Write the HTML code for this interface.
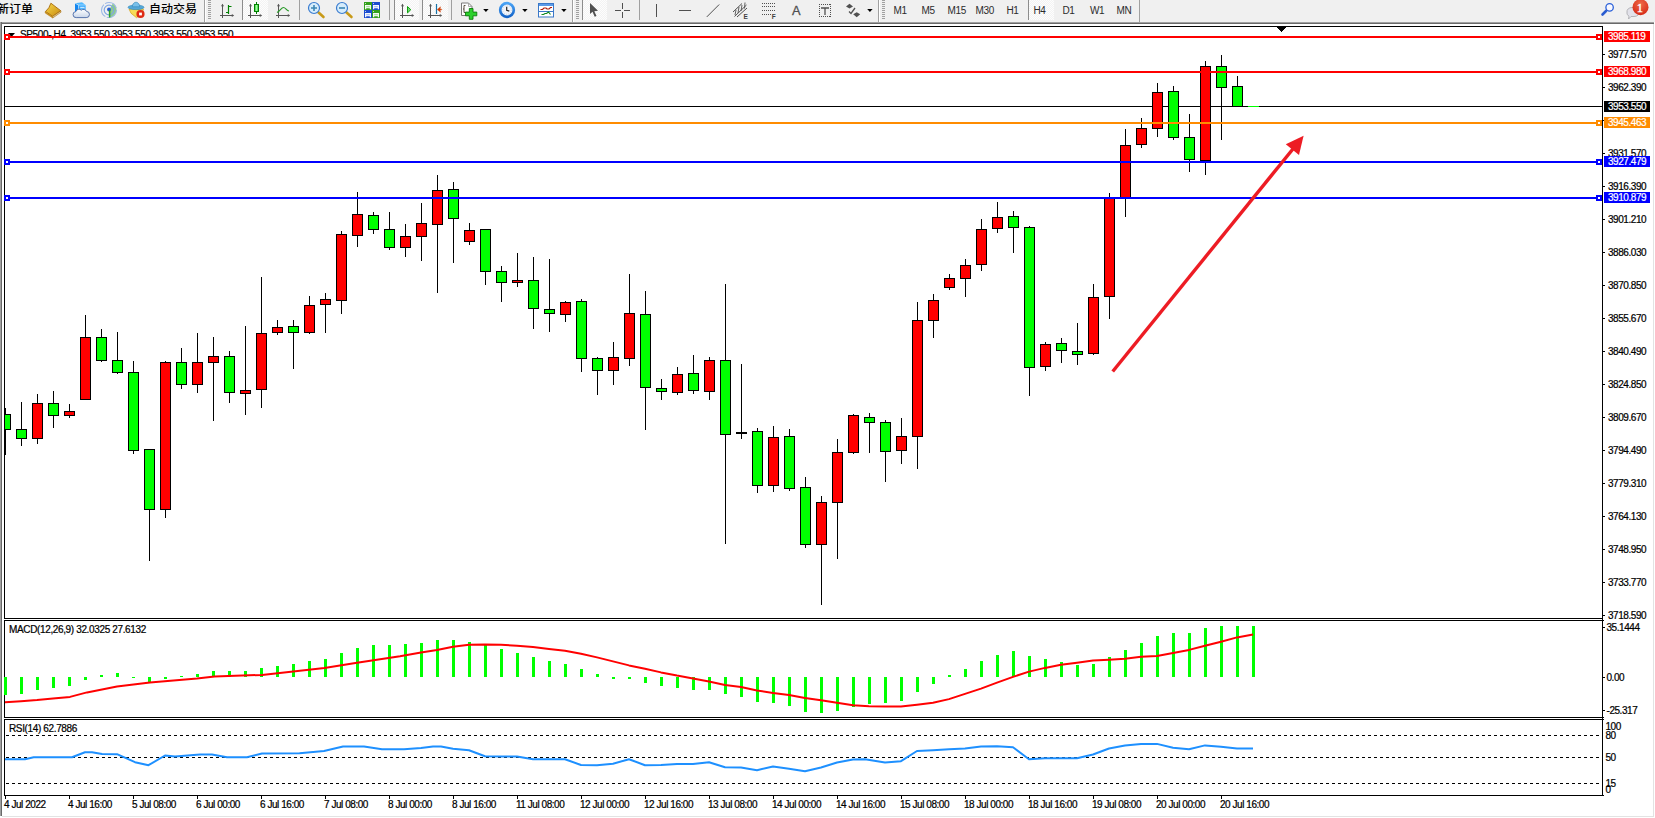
<!DOCTYPE html>
<html><head><meta charset="utf-8"><title>SP500-,H4</title>
<style>
html,body{margin:0;padding:0}
body{width:1655px;height:818px;overflow:hidden;position:relative;background:#fff;font-family:"Liberation Sans","Noto Sans CJK SC",sans-serif}
#tb{position:absolute;left:0;top:0;width:1655px;height:22px;background:#f0f0f0}
#edge-t{position:absolute;left:0;top:22px;width:1654px;height:2px;background:linear-gradient(#a0a0a0 50%,#696969 50%)}
#edge-l{position:absolute;left:0;top:22px;width:2px;height:794px;background:linear-gradient(90deg,#a0a0a0 50%,#696969 50%)}
#edge-r{position:absolute;left:1653px;top:24px;width:1px;height:793px;background:#e3e3e3}
#edge-b{position:absolute;left:2px;top:816px;width:1652px;height:1px;background:#e3e3e3}
.cjk{position:absolute;top:1px;transform:scaleY(.92);transform-origin:0 13.5px;font-weight:500;font-size:12px;line-height:16px;color:#000;white-space:nowrap}
.sep{position:absolute;top:0;width:1px;height:20px;background:#a0a0a0}
.sep.f{height:22px;box-shadow:1px 0 0 #fff}
.grip{position:absolute;top:0;width:3px;height:20px;background:repeating-linear-gradient(#a0a0a0 0,#a0a0a0 1px,transparent 1px,transparent 2px)}
.pr{position:absolute;top:0;height:20px;background:repeating-conic-gradient(#fdfdfd 0 25%,#f3f3f3 0 50%) 0 0/2px 2px;border-left:1px solid #8c8c8c;box-sizing:border-box}
.tf{position:absolute;top:4px;font-size:10px;line-height:13px;color:#2c2c2c;letter-spacing:-0.35px;white-space:nowrap}
.ic{position:absolute;top:0;left:0}
</style></head><body>
<div id="tb">
<span class="cjk" style="left:-3px">新订单</span>
<span class="cjk" style="left:149px">自动交易</span>
<div class="sep f" style="left:204px"></div><div class="grip" style="left:208px"></div>
<div class="pr" style="left:242px;width:26px"></div>
<div class="sep" style="left:299px"></div>
<div class="sep" style="left:389px"></div>
<div class="pr" style="left:394px;width:25px"></div>
<div class="pr" style="left:422px;width:26px"></div>
<div class="sep" style="left:451px"></div>
<div class="sep f" style="left:572px"></div><div class="grip" style="left:576px"></div>
<div class="pr" style="left:582px;width:25px"></div>
<div class="sep" style="left:639px"></div>
<div class="sep f" style="left:878px"></div><div class="grip" style="left:882px"></div>
<div class="pr" style="left:1028px;width:26px"></div>
<div class="sep" style="left:1139px;height:22px"></div>
<span class="tf" style="left:893.5px">M1</span><span class="tf" style="left:921.5px">M5</span><span class="tf" style="left:947.5px">M15</span><span class="tf" style="left:975.5px">M30</span><span class="tf" style="left:1006.5px">H1</span><span class="tf" style="left:1033.5px">H4</span><span class="tf" style="left:1062.5px">D1</span><span class="tf" style="left:1090px">W1</span><span class="tf" style="left:1116.5px">MN</span>
<svg class="ic" width="1655" height="22" viewBox="0 0 1655 22">
<defs>
<linearGradient id="gold" x1="0" y1="0" x2="1" y2="1"><stop offset="0" stop-color="#f7d84a"/><stop offset="1" stop-color="#c88a10"/></linearGradient>
<linearGradient id="cl" x1="0" y1="0" x2="0" y2="1"><stop offset="0" stop-color="#fff"/><stop offset="1" stop-color="#c9d6ea"/></linearGradient>
<linearGradient id="bl" x1="0" y1="0" x2="0" y2="1"><stop offset="0" stop-color="#4aa3f5"/><stop offset="1" stop-color="#1464c8"/></linearGradient>
<linearGradient id="gr" x1="0" y1="0" x2="1" y2="0"><stop offset="0" stop-color="#20c020"/><stop offset=".5" stop-color="#a0ffa0"/><stop offset="1" stop-color="#20c020"/></linearGradient>
<radialGradient id="rd" cx=".5" cy=".3" r=".7"><stop offset="0" stop-color="#ee6a48"/><stop offset="1" stop-color="#d62a16"/></radialGradient>
<g id="axes" fill="none" stroke="#555" stroke-width="1"><path d="M2.5 4.500v13.500M0 15.500h13"/><path d="M1 6.200L2.500 3.800L4 6.200zM11.800 14L14.200 15.500L11.800 17z" fill="#555" stroke="none"/></g>
<path id="dd" d="M0.200 9h5.400l-2.700 3z" fill="#000"/>
</defs>
<!-- book -->
<path d="M50.900 3.200L60.700 10.700L52.600 16.300L45.500 11.500Q49.500 8.200 50.900 3.200z" fill="url(#gold)" stroke="#a86a08" stroke-width=".9" stroke-linejoin="round"/>
<path d="M45.200 11.700L52.600 16.500L52.700 18L45.200 13z" fill="#cf9414" stroke="#b07810" stroke-width=".5"/>
<path d="M52.600 16.500L60.900 10.900L61 12.200L52.700 18z" fill="#e6d6a0" stroke="#a86a08" stroke-width=".6"/>
<!-- server + cloud -->
<path d="M75 3.200L78.600 5v8.500L75 12z" fill="#1486ee"/><path d="M78.600 5h7v8.500h-7z" fill="#2ea6ff"/><path d="M75 3.200L82 2.200L85.600 5h-7z" fill="#52b8ff"/>
<path d="M75.200 3.400L78.600 5.100V12M78.600 5.100H85.400" stroke="#d8f0ff" stroke-width=".6" fill="none"/>
<path d="M80.200 7.300h4.400" stroke="#fff" stroke-width=".9"/><path d="M80 8.500h5.200v2.500H80z" fill="#7cc8ff"/>
<path d="M76.200 17.600a3 3 0 0 1-.3-6a3.200 3.200 0 0 1 5.400-1.400a3.300 3.300 0 0 1 5.200 1.200a3.100 3.100 0 0 1-.3 6.200z" fill="url(#cl)" stroke="#4a68a4" stroke-width=".9"/>
<!-- signal -->
<path d="M109 10L112.800 3.600A7.500 7.500 0 0 1 109 17.500z" fill="#6fbf6f" opacity=".75"/>
<circle cx="109" cy="10" r="7.500" fill="none" stroke="#9db9e6" stroke-width="1.100" stroke-dasharray="14 1.500"/><circle cx="109" cy="10" r="4.800" fill="none" stroke="#7fa6e2" stroke-width="1.200"/><circle cx="109" cy="9.500" r="1.900" fill="#2a5fd0"/><path d="M109.600 10.200v7.300" stroke="#2aa02a" stroke-width="1.500"/>
<!-- hat / expert -->
<path d="M129 9h14.500l-1.500 4.500l-5.500 4.200l-5.500-4.500z" fill="#f6dc58" stroke="#d2a21c" stroke-width=".7"/>
<ellipse cx="136" cy="7.300" rx="8" ry="2.300" fill="#56a8d8" stroke="#2e86b8" stroke-width=".6"/><path d="M132.300 6.800a3.700 4.600 0 0 1 7.400 0z" fill="#78c0ea" stroke="#2e86b8" stroke-width=".6"/>
<circle cx="140.500" cy="14" r="4.100" fill="#de2a14"/><rect x="139.100" y="12.600" width="2.800" height="2.800" fill="#fff"/>
<!-- chart type icons -->
<use href="#axes" x="220" y="0"/><path d="M228.500 5v9M228.500 6.500h3M226 12.500h2.500" stroke="#008000" stroke-width="1.200" fill="none"/>
<use href="#axes" x="248" y="0"/><path d="M256.500 2v12" stroke="#008000" stroke-width="1"/><rect x="254.500" y="4.500" width="4" height="7" fill="url(#gr)" stroke="#008000" stroke-width="1"/>
<use href="#axes" x="276" y="0"/><path d="M277 12.500C280 11 281.500 7.500 283.500 7.500S286.500 10.500 289 11" stroke="#2a9a2a" stroke-width="1.200" fill="none"/>
<!-- zoom in/out -->
<g id="zin"><path d="M318 12l5.500 5" stroke="#c89a18" stroke-width="2.600" stroke-linecap="round"/><circle cx="314" cy="8" r="5.500" fill="#d6ecfb" stroke="#3a7cd0" stroke-width="1.200"/></g><path d="M311 8h6M314 5v6" stroke="#3c86b4" stroke-width="1.600"/>
<path d="M346 12l5.500 5" stroke="#c89a18" stroke-width="2.600" stroke-linecap="round"/><circle cx="342" cy="8" r="5.500" fill="#d6ecfb" stroke="#3a7cd0" stroke-width="1.200"/><path d="M339 8h6" stroke="#3c86b4" stroke-width="1.600"/>
<!-- tile -->
<rect x="364" y="2" width="8" height="8" fill="#34a01c"/><rect x="372" y="2" width="8" height="8" fill="#1c4cd0"/><rect x="364" y="10" width="8" height="8" fill="#1c4cd0"/><rect x="372" y="10" width="8" height="8" fill="#34a01c"/>
<path d="M365 5h6v4.300h-1.200v-1h-3.600v1H365zM373 5h6v4.300h-1.200v-1h-3.600v1H373zM365 13h6v4.300h-1.200v-1h-3.600v1H365zM373 13h6v4.300h-1.200v-1h-3.600v1H373z" fill="#fff" opacity=".95"/>
<path d="M366.200 6.700h3.600M374.200 14.700h3.600" stroke="#8fd080" stroke-width=".9"/><path d="M374.200 6.700h3.600M366.200 14.700h3.600" stroke="#8fa8f0" stroke-width=".9"/>
<path d="M365 3.500h1M373 3.500h1M365 11.500h1M373 11.500h1" stroke="#e8f4e8" stroke-width="1" opacity=".8"/>
<!-- autoscroll / shift -->
<use href="#axes" x="400" y="0"/><path d="M407.500 6.500v6.400l3.300-3.200z" fill="#70dc70" stroke="#10a010" stroke-width="1"/>
<use href="#axes" x="428" y="0"/><path d="M436.500 4v10" stroke="#1874a8" stroke-width="1.200"/><path d="M437.300 9.500l3.200-2.700l-.4 2.100l2 .6l-2 .6l.4 2.100z" fill="#d03c00" stroke="#d03c00" stroke-width=".4"/>
<!-- new chart -->
<path d="M461.500 3h7l3.500 3.500v9h-10.500z" fill="#fcfcfc" stroke="#7a7a7a" stroke-width="1"/><path d="M468.500 3v3.500h3.500" fill="none" stroke="#9a9a9a" stroke-width=".8"/><path d="M465.500 5.500h-1.500v7h1.500M463 9h1" stroke="#4a4030" stroke-width=".9" fill="none"/>
<path d="M469.300 8.500h3.700v3.600h3.800v3.700h-3.800v3.500h-3.700v-3.500h-3.800v-3.700h3.800z" fill="#2cd02c" stroke="#0a7c0a" stroke-width=".9"/>
<use href="#dd" x="483"/>
<!-- clock -->
<circle cx="507" cy="10" r="6.800" fill="#f0f4fa" stroke="url(#bl)" stroke-width="2.700"/><circle cx="507" cy="10" r="4.300" fill="none" stroke="#b8c4d4" stroke-width=".8" stroke-dasharray=".8 1.450"/><path d="M506.700 6.700v3.600l2.600 .8" stroke="#222" stroke-width="1.200" fill="none"/>
<use href="#dd" x="522"/>
<!-- template -->
<rect x="538.500" y="3.500" width="15" height="13.500" fill="#fff" stroke="#3a78c8" stroke-width="1"/><rect x="539" y="4" width="14" height="2" fill="#5a9ae8"/><path d="M539 11.500h14" stroke="#3a78c8" stroke-width="1"/>
<path d="M540.500 9.500h2l1.500-1.500h2l1 1h2l1.500-1.500h1.500" stroke="#b02010" stroke-width="1.200" fill="none"/><path d="M541.500 14.500h2l1.500-1h1.500l2-1.500l2 2.500" stroke="#108a20" stroke-width="1.200" fill="none"/>
<use href="#dd" x="561"/>
<!-- cursor -->
<path d="M590 3v11l2.500-2.200l2.200 5l1.800-.8l-2.200-4.800l3.700-.4z" fill="#505050"/>
<!-- crosshair -->
<path d="M615 10.500h6M624 10.500h6M622.500 3v6M622.500 12v6" stroke="#505050" stroke-width="1"/>
<!-- vline hline trend -->
<path d="M656.500 4v13" stroke="#505050" stroke-width="1"/><path d="M679 10.500h12" stroke="#505050" stroke-width="1"/><path d="M706.800 16.900L719.200 4.500" stroke="#505050" stroke-width="1"/>
<!-- channel -->
<path d="M733 12L742 3.500M734.500 16.500L746.500 5M737 17L747 8" stroke="#505050" stroke-width="1"/><path d="M736 10l-1 5M739 7l-1 6M742 5l-1 6M745 2.500l-.5 6" stroke="#505050" stroke-width=".9"/>
<text x="743.500" y="18.800" font-family="Liberation Sans, sans-serif" font-size="6.500" font-weight="bold" fill="#404040">E</text>
<!-- fibo -->
<path d="M762 3.500h14M762 6.500h14M762 10.500h14M762 14.500h9.500" stroke="#505050" stroke-width="1" stroke-dasharray="1 1" shape-rendering="crispEdges"/>
<text x="771.800" y="18.800" font-family="Liberation Sans, sans-serif" font-size="6.500" font-weight="bold" fill="#404040">F</text>
<!-- A -->
<text x="792" y="15.200" font-family="Liberation Sans, sans-serif" font-size="12.800" fill="#505050" stroke="#505050" stroke-width=".3">A</text>
<!-- T box -->
<path d="M819 4.500h12M819 16.500h12M819.500 4v13M830.500 4v13" fill="none" stroke="#505050" stroke-width="1" stroke-dasharray="1 1" shape-rendering="crispEdges"/><path d="M821 8h8M825 8v7" stroke="#505050" stroke-width="1.300"/>
<!-- arrows -->
<path d="M846 6.500l3.500-2.700l3.500 2.700l-3.500 2zM853.200 14.300l3.500-2l3.500 2l-3.500 2.900z" fill="#505050"/><path d="M849 11.500l2 2l4-5.500" stroke="#505050" stroke-width="1.300" fill="none"/>
<use href="#dd" x="867"/>
<!-- search -->
<path d="M1606 11l-3.500 3.500" stroke="#2a5cd0" stroke-width="2.600" stroke-linecap="round"/><circle cx="1609.600" cy="7.400" r="3.700" fill="#f8f8ff" stroke="#2a60d8" stroke-width="1.300"/>
<!-- chat -->
<path d="M1627 12a5 4 0 0 1 5-4.500h2a5 4 0 0 1 0 9h-3l-2.500 2.500l.5-2.800a5 4 0 0 1-2-4.200z" fill="#e2e2ea" stroke="#b4b4b8" stroke-width="1"/>
<circle cx="1640.500" cy="7.200" r="8" fill="url(#rd)"/>
<text x="1636.800" y="11.800" font-family="Liberation Serif, serif" font-size="12.500" fill="#fff" stroke="#fff" stroke-width=".35">1</text>
</svg>

</div>
<div id="edge-t"></div><div id="edge-l"></div><div id="edge-r"></div><div id="edge-b"></div>
<svg width="1655" height="818" viewBox="0 0 1655 818" style="position:absolute;left:0;top:0" shape-rendering="crispEdges">
<rect x="4" y="26" width="1599" height="1" fill="#000"/>
<rect x="4" y="26" width="1" height="593" fill="#000"/>
<rect x="4" y="618" width="1599" height="1" fill="#000"/>
<rect x="1602" y="26" width="1" height="770" fill="#000"/>
<rect x="4" y="620" width="1599" height="1" fill="#000"/>
<rect x="4" y="620" width="1" height="98" fill="#000"/>
<rect x="4" y="717" width="1599" height="1" fill="#000"/>
<rect x="4" y="719" width="1599" height="1" fill="#000"/>
<rect x="4" y="719" width="1" height="77" fill="#000"/>
<rect x="4" y="795" width="1599" height="1" fill="#000"/>
<rect x="1603" y="620" width="1" height="1" fill="#000"/>
<rect x="1603" y="717" width="1" height="1" fill="#000"/>
<rect x="1603" y="719" width="1" height="1" fill="#000"/>
<rect x="1603" y="795" width="1" height="1" fill="#000"/>
<text x="20" y="38" font-family="Liberation Sans, sans-serif" font-size="10" letter-spacing="-0.36" stroke-width="0.22" paint-order="stroke" fill="#000" stroke="#000" shape-rendering="auto">SP500-,H4&#160;&#160;3953.550 3953.550 3953.550 3953.550</text>
<path d="M8 33h7l-3.5 4z" fill="#000" shape-rendering="auto"/>
<rect x="1277" y="27" width="9" height="1" fill="#000"/>
<rect x="1278" y="28" width="7" height="1" fill="#000"/>
<rect x="1279" y="29" width="5" height="1" fill="#000"/>
<rect x="1280" y="30" width="3" height="1" fill="#000"/>
<rect x="1281" y="31" width="1" height="1" fill="#000"/>
<rect x="5" y="106" width="1597" height="1" fill="#000"/>
<clipPath id="cc"><rect x="5" y="27" width="1597" height="591"/></clipPath>
<g clip-path="url(#cc)">
<rect x="5" y="408" width="1" height="47" fill="#000"/>
<rect x="0" y="414" width="11" height="16" fill="#000"/>
<rect x="1" y="415" width="9" height="14" fill="#00ff00"/>
<rect x="21" y="402" width="1" height="44" fill="#000"/>
<rect x="16" y="429" width="11" height="10" fill="#000"/>
<rect x="17" y="430" width="9" height="8" fill="#00ff00"/>
<rect x="37" y="394" width="1" height="50" fill="#000"/>
<rect x="32" y="403" width="11" height="36" fill="#000"/>
<rect x="33" y="404" width="9" height="34" fill="#ff0000"/>
<rect x="53" y="391" width="1" height="37" fill="#000"/>
<rect x="48" y="403" width="11" height="13" fill="#000"/>
<rect x="49" y="404" width="9" height="11" fill="#00ff00"/>
<rect x="69" y="404" width="1" height="14" fill="#000"/>
<rect x="64" y="411" width="11" height="5" fill="#000"/>
<rect x="65" y="412" width="9" height="3" fill="#ff0000"/>
<rect x="85" y="315" width="1" height="85" fill="#000"/>
<rect x="80" y="337" width="11" height="63" fill="#000"/>
<rect x="81" y="338" width="9" height="61" fill="#ff0000"/>
<rect x="101" y="329" width="1" height="33" fill="#000"/>
<rect x="96" y="337" width="11" height="24" fill="#000"/>
<rect x="97" y="338" width="9" height="22" fill="#00ff00"/>
<rect x="117" y="332" width="1" height="42" fill="#000"/>
<rect x="112" y="360" width="11" height="13" fill="#000"/>
<rect x="113" y="361" width="9" height="11" fill="#00ff00"/>
<rect x="133" y="361" width="1" height="93" fill="#000"/>
<rect x="128" y="372" width="11" height="79" fill="#000"/>
<rect x="129" y="373" width="9" height="77" fill="#00ff00"/>
<rect x="149" y="449" width="1" height="112" fill="#000"/>
<rect x="144" y="449" width="11" height="61" fill="#000"/>
<rect x="145" y="450" width="9" height="59" fill="#00ff00"/>
<rect x="165" y="361" width="1" height="157" fill="#000"/>
<rect x="160" y="362" width="11" height="148" fill="#000"/>
<rect x="161" y="363" width="9" height="146" fill="#ff0000"/>
<rect x="181" y="348" width="1" height="41" fill="#000"/>
<rect x="176" y="362" width="11" height="23" fill="#000"/>
<rect x="177" y="363" width="9" height="21" fill="#00ff00"/>
<rect x="197" y="333" width="1" height="60" fill="#000"/>
<rect x="192" y="362" width="11" height="23" fill="#000"/>
<rect x="193" y="363" width="9" height="21" fill="#ff0000"/>
<rect x="213" y="337" width="1" height="84" fill="#000"/>
<rect x="208" y="356" width="11" height="7" fill="#000"/>
<rect x="209" y="357" width="9" height="5" fill="#ff0000"/>
<rect x="229" y="351" width="1" height="52" fill="#000"/>
<rect x="224" y="356" width="11" height="37" fill="#000"/>
<rect x="225" y="357" width="9" height="35" fill="#00ff00"/>
<rect x="245" y="326" width="1" height="89" fill="#000"/>
<rect x="240" y="390" width="11" height="4" fill="#000"/>
<rect x="241" y="391" width="9" height="2" fill="#ff0000"/>
<rect x="261" y="277" width="1" height="131" fill="#000"/>
<rect x="256" y="333" width="11" height="57" fill="#000"/>
<rect x="257" y="334" width="9" height="55" fill="#ff0000"/>
<rect x="277" y="320" width="1" height="15" fill="#000"/>
<rect x="272" y="327" width="11" height="6" fill="#000"/>
<rect x="273" y="328" width="9" height="4" fill="#ff0000"/>
<rect x="293" y="320" width="1" height="49" fill="#000"/>
<rect x="288" y="326" width="11" height="7" fill="#000"/>
<rect x="289" y="327" width="9" height="5" fill="#00ff00"/>
<rect x="309" y="296" width="1" height="38" fill="#000"/>
<rect x="304" y="305" width="11" height="28" fill="#000"/>
<rect x="305" y="306" width="9" height="26" fill="#ff0000"/>
<rect x="325" y="293" width="1" height="40" fill="#000"/>
<rect x="320" y="299" width="11" height="6" fill="#000"/>
<rect x="321" y="300" width="9" height="4" fill="#ff0000"/>
<rect x="341" y="231" width="1" height="83" fill="#000"/>
<rect x="336" y="234" width="11" height="67" fill="#000"/>
<rect x="337" y="235" width="9" height="65" fill="#ff0000"/>
<rect x="357" y="192" width="1" height="55" fill="#000"/>
<rect x="352" y="214" width="11" height="22" fill="#000"/>
<rect x="353" y="215" width="9" height="20" fill="#ff0000"/>
<rect x="373" y="212" width="1" height="22" fill="#000"/>
<rect x="368" y="215" width="11" height="15" fill="#000"/>
<rect x="369" y="216" width="9" height="13" fill="#00ff00"/>
<rect x="389" y="212" width="1" height="38" fill="#000"/>
<rect x="384" y="229" width="11" height="19" fill="#000"/>
<rect x="385" y="230" width="9" height="17" fill="#00ff00"/>
<rect x="405" y="224" width="1" height="33" fill="#000"/>
<rect x="400" y="236" width="11" height="12" fill="#000"/>
<rect x="401" y="237" width="9" height="10" fill="#ff0000"/>
<rect x="421" y="203" width="1" height="58" fill="#000"/>
<rect x="416" y="223" width="11" height="14" fill="#000"/>
<rect x="417" y="224" width="9" height="12" fill="#ff0000"/>
<rect x="437" y="175" width="1" height="118" fill="#000"/>
<rect x="432" y="190" width="11" height="35" fill="#000"/>
<rect x="433" y="191" width="9" height="33" fill="#ff0000"/>
<rect x="453" y="182" width="1" height="81" fill="#000"/>
<rect x="448" y="189" width="11" height="30" fill="#000"/>
<rect x="449" y="190" width="9" height="28" fill="#00ff00"/>
<rect x="469" y="223" width="1" height="22" fill="#000"/>
<rect x="464" y="230" width="11" height="12" fill="#000"/>
<rect x="465" y="231" width="9" height="10" fill="#ff0000"/>
<rect x="485" y="229" width="1" height="56" fill="#000"/>
<rect x="480" y="229" width="11" height="43" fill="#000"/>
<rect x="481" y="230" width="9" height="41" fill="#00ff00"/>
<rect x="501" y="266" width="1" height="36" fill="#000"/>
<rect x="496" y="271" width="11" height="12" fill="#000"/>
<rect x="497" y="272" width="9" height="10" fill="#00ff00"/>
<rect x="517" y="253" width="1" height="34" fill="#000"/>
<rect x="512" y="280" width="11" height="3" fill="#000"/>
<rect x="513" y="281" width="9" height="1" fill="#ff0000"/>
<rect x="533" y="257" width="1" height="72" fill="#000"/>
<rect x="528" y="280" width="11" height="29" fill="#000"/>
<rect x="529" y="281" width="9" height="27" fill="#00ff00"/>
<rect x="549" y="259" width="1" height="73" fill="#000"/>
<rect x="544" y="309" width="11" height="5" fill="#000"/>
<rect x="545" y="310" width="9" height="3" fill="#00ff00"/>
<rect x="565" y="301" width="1" height="21" fill="#000"/>
<rect x="560" y="302" width="11" height="13" fill="#000"/>
<rect x="561" y="303" width="9" height="11" fill="#ff0000"/>
<rect x="581" y="299" width="1" height="73" fill="#000"/>
<rect x="576" y="301" width="11" height="58" fill="#000"/>
<rect x="577" y="302" width="9" height="56" fill="#00ff00"/>
<rect x="597" y="357" width="1" height="38" fill="#000"/>
<rect x="592" y="358" width="11" height="13" fill="#000"/>
<rect x="593" y="359" width="9" height="11" fill="#00ff00"/>
<rect x="613" y="342" width="1" height="43" fill="#000"/>
<rect x="608" y="357" width="11" height="14" fill="#000"/>
<rect x="609" y="358" width="9" height="12" fill="#ff0000"/>
<rect x="629" y="274" width="1" height="92" fill="#000"/>
<rect x="624" y="313" width="11" height="46" fill="#000"/>
<rect x="625" y="314" width="9" height="44" fill="#ff0000"/>
<rect x="645" y="291" width="1" height="139" fill="#000"/>
<rect x="640" y="314" width="11" height="74" fill="#000"/>
<rect x="641" y="315" width="9" height="72" fill="#00ff00"/>
<rect x="661" y="379" width="1" height="21" fill="#000"/>
<rect x="656" y="388" width="11" height="4" fill="#000"/>
<rect x="657" y="389" width="9" height="2" fill="#00ff00"/>
<rect x="677" y="367" width="1" height="28" fill="#000"/>
<rect x="672" y="374" width="11" height="19" fill="#000"/>
<rect x="673" y="375" width="9" height="17" fill="#ff0000"/>
<rect x="693" y="355" width="1" height="39" fill="#000"/>
<rect x="688" y="373" width="11" height="18" fill="#000"/>
<rect x="689" y="374" width="9" height="16" fill="#00ff00"/>
<rect x="709" y="357" width="1" height="43" fill="#000"/>
<rect x="704" y="360" width="11" height="32" fill="#000"/>
<rect x="705" y="361" width="9" height="30" fill="#ff0000"/>
<rect x="725" y="284" width="1" height="260" fill="#000"/>
<rect x="720" y="360" width="11" height="75" fill="#000"/>
<rect x="721" y="361" width="9" height="73" fill="#00ff00"/>
<rect x="741" y="364" width="1" height="75" fill="#000"/>
<rect x="736" y="432" width="11" height="2" fill="#000"/>
<rect x="757" y="428" width="1" height="65" fill="#000"/>
<rect x="752" y="431" width="11" height="55" fill="#000"/>
<rect x="753" y="432" width="9" height="53" fill="#00ff00"/>
<rect x="773" y="426" width="1" height="66" fill="#000"/>
<rect x="768" y="437" width="11" height="49" fill="#000"/>
<rect x="769" y="438" width="9" height="47" fill="#ff0000"/>
<rect x="789" y="429" width="1" height="62" fill="#000"/>
<rect x="784" y="436" width="11" height="53" fill="#000"/>
<rect x="785" y="437" width="9" height="51" fill="#00ff00"/>
<rect x="805" y="477" width="1" height="71" fill="#000"/>
<rect x="800" y="487" width="11" height="58" fill="#000"/>
<rect x="801" y="488" width="9" height="56" fill="#00ff00"/>
<rect x="821" y="496" width="1" height="109" fill="#000"/>
<rect x="816" y="502" width="11" height="43" fill="#000"/>
<rect x="817" y="503" width="9" height="41" fill="#ff0000"/>
<rect x="837" y="439" width="1" height="120" fill="#000"/>
<rect x="832" y="452" width="11" height="51" fill="#000"/>
<rect x="833" y="453" width="9" height="49" fill="#ff0000"/>
<rect x="853" y="414" width="1" height="40" fill="#000"/>
<rect x="848" y="415" width="11" height="38" fill="#000"/>
<rect x="849" y="416" width="9" height="36" fill="#ff0000"/>
<rect x="869" y="413" width="1" height="40" fill="#000"/>
<rect x="864" y="417" width="11" height="6" fill="#000"/>
<rect x="865" y="418" width="9" height="4" fill="#00ff00"/>
<rect x="885" y="420" width="1" height="62" fill="#000"/>
<rect x="880" y="422" width="11" height="30" fill="#000"/>
<rect x="881" y="423" width="9" height="28" fill="#00ff00"/>
<rect x="901" y="418" width="1" height="46" fill="#000"/>
<rect x="896" y="436" width="11" height="15" fill="#000"/>
<rect x="897" y="437" width="9" height="13" fill="#ff0000"/>
<rect x="917" y="302" width="1" height="167" fill="#000"/>
<rect x="912" y="320" width="11" height="117" fill="#000"/>
<rect x="913" y="321" width="9" height="115" fill="#ff0000"/>
<rect x="933" y="294" width="1" height="44" fill="#000"/>
<rect x="928" y="300" width="11" height="21" fill="#000"/>
<rect x="929" y="301" width="9" height="19" fill="#ff0000"/>
<rect x="949" y="274" width="1" height="16" fill="#000"/>
<rect x="944" y="278" width="11" height="10" fill="#000"/>
<rect x="945" y="279" width="9" height="8" fill="#ff0000"/>
<rect x="965" y="259" width="1" height="38" fill="#000"/>
<rect x="960" y="265" width="11" height="14" fill="#000"/>
<rect x="961" y="266" width="9" height="12" fill="#ff0000"/>
<rect x="981" y="219" width="1" height="52" fill="#000"/>
<rect x="976" y="229" width="11" height="36" fill="#000"/>
<rect x="977" y="230" width="9" height="34" fill="#ff0000"/>
<rect x="997" y="202" width="1" height="31" fill="#000"/>
<rect x="992" y="217" width="11" height="12" fill="#000"/>
<rect x="993" y="218" width="9" height="10" fill="#ff0000"/>
<rect x="1013" y="211" width="1" height="42" fill="#000"/>
<rect x="1008" y="216" width="11" height="12" fill="#000"/>
<rect x="1009" y="217" width="9" height="10" fill="#00ff00"/>
<rect x="1029" y="226" width="1" height="170" fill="#000"/>
<rect x="1024" y="227" width="11" height="141" fill="#000"/>
<rect x="1025" y="228" width="9" height="139" fill="#00ff00"/>
<rect x="1045" y="342" width="1" height="29" fill="#000"/>
<rect x="1040" y="344" width="11" height="23" fill="#000"/>
<rect x="1041" y="345" width="9" height="21" fill="#ff0000"/>
<rect x="1061" y="338" width="1" height="25" fill="#000"/>
<rect x="1056" y="343" width="11" height="8" fill="#000"/>
<rect x="1057" y="344" width="9" height="6" fill="#00ff00"/>
<rect x="1077" y="323" width="1" height="42" fill="#000"/>
<rect x="1072" y="351" width="11" height="4" fill="#000"/>
<rect x="1073" y="352" width="9" height="2" fill="#00ff00"/>
<rect x="1093" y="284" width="1" height="71" fill="#000"/>
<rect x="1088" y="297" width="11" height="57" fill="#000"/>
<rect x="1089" y="298" width="9" height="55" fill="#ff0000"/>
<rect x="1109" y="193" width="1" height="126" fill="#000"/>
<rect x="1104" y="198" width="11" height="99" fill="#000"/>
<rect x="1105" y="199" width="9" height="97" fill="#ff0000"/>
<rect x="1125" y="129" width="1" height="88" fill="#000"/>
<rect x="1120" y="145" width="11" height="53" fill="#000"/>
<rect x="1121" y="146" width="9" height="51" fill="#ff0000"/>
<rect x="1141" y="118" width="1" height="30" fill="#000"/>
<rect x="1136" y="128" width="11" height="17" fill="#000"/>
<rect x="1137" y="129" width="9" height="15" fill="#ff0000"/>
<rect x="1157" y="83" width="1" height="54" fill="#000"/>
<rect x="1152" y="92" width="11" height="37" fill="#000"/>
<rect x="1153" y="93" width="9" height="35" fill="#ff0000"/>
<rect x="1173" y="86" width="1" height="54" fill="#000"/>
<rect x="1168" y="91" width="11" height="47" fill="#000"/>
<rect x="1169" y="92" width="9" height="45" fill="#00ff00"/>
<rect x="1189" y="114" width="1" height="58" fill="#000"/>
<rect x="1184" y="137" width="11" height="23" fill="#000"/>
<rect x="1185" y="138" width="9" height="21" fill="#00ff00"/>
<rect x="1205" y="61" width="1" height="114" fill="#000"/>
<rect x="1200" y="66" width="11" height="95" fill="#000"/>
<rect x="1201" y="67" width="9" height="93" fill="#ff0000"/>
<rect x="1221" y="55" width="1" height="85" fill="#000"/>
<rect x="1216" y="66" width="11" height="22" fill="#000"/>
<rect x="1217" y="67" width="9" height="20" fill="#00ff00"/>
<rect x="1237" y="76" width="1" height="31" fill="#000"/>
<rect x="1232" y="86" width="11" height="21" fill="#000"/>
<rect x="1233" y="87" width="9" height="19" fill="#00ff00"/>
<rect x="1248" y="106" width="11" height="1" fill="#00ff00"/>
</g>
<rect x="5" y="36" width="1597" height="2" fill="#ff0000"/>
<rect x="4" y="34" width="6" height="6" fill="#ff0000"/>
<rect x="6" y="36" width="2" height="2" fill="#fff"/>
<rect x="1596" y="34" width="6" height="6" fill="#ff0000"/>
<rect x="1598" y="36" width="2" height="2" fill="#fff"/>
<rect x="5" y="71" width="1597" height="2" fill="#ff0000"/>
<rect x="4" y="69" width="6" height="6" fill="#ff0000"/>
<rect x="6" y="71" width="2" height="2" fill="#fff"/>
<rect x="1596" y="69" width="6" height="6" fill="#ff0000"/>
<rect x="1598" y="71" width="2" height="2" fill="#fff"/>
<rect x="5" y="122" width="1597" height="2" fill="#ff8c00"/>
<rect x="4" y="120" width="6" height="6" fill="#ff8c00"/>
<rect x="6" y="122" width="2" height="2" fill="#fff"/>
<rect x="1596" y="120" width="6" height="6" fill="#ff8c00"/>
<rect x="1598" y="122" width="2" height="2" fill="#fff"/>
<rect x="5" y="161" width="1597" height="2" fill="#0000ff"/>
<rect x="4" y="159" width="6" height="6" fill="#0000ff"/>
<rect x="6" y="161" width="2" height="2" fill="#fff"/>
<rect x="1596" y="159" width="6" height="6" fill="#0000ff"/>
<rect x="1598" y="161" width="2" height="2" fill="#fff"/>
<rect x="5" y="197" width="1597" height="2" fill="#0000ff"/>
<rect x="4" y="195" width="6" height="6" fill="#0000ff"/>
<rect x="6" y="197" width="2" height="2" fill="#fff"/>
<rect x="1596" y="195" width="6" height="6" fill="#0000ff"/>
<rect x="1598" y="197" width="2" height="2" fill="#fff"/>
<g shape-rendering="auto"><line x1="1112.7" y1="371.5" x2="1293.5" y2="148.2" stroke="#ed1c24" stroke-width="3.4"/><path d="M1303.6 135.7L1285.8 144.2L1299 155.1z" fill="#ed1c24"/></g>
<rect x="1603" y="54" width="2" height="1" fill="#000"/>
<text x="1608" y="58" font-family="Liberation Sans, sans-serif" font-size="10" letter-spacing="-0.45" stroke-width="0.22" paint-order="stroke" fill="#000" stroke="#000" shape-rendering="auto">3977.570</text>
<rect x="1603" y="87" width="2" height="1" fill="#000"/>
<text x="1608" y="91" font-family="Liberation Sans, sans-serif" font-size="10" letter-spacing="-0.45" stroke-width="0.22" paint-order="stroke" fill="#000" stroke="#000" shape-rendering="auto">3962.390</text>
<rect x="1603" y="120" width="2" height="1" fill="#000"/>
<rect x="1603" y="153" width="2" height="1" fill="#000"/>
<text x="1608" y="157" font-family="Liberation Sans, sans-serif" font-size="10" letter-spacing="-0.45" stroke-width="0.22" paint-order="stroke" fill="#000" stroke="#000" shape-rendering="auto">3931.570</text>
<rect x="1603" y="186" width="2" height="1" fill="#000"/>
<text x="1608" y="190" font-family="Liberation Sans, sans-serif" font-size="10" letter-spacing="-0.45" stroke-width="0.22" paint-order="stroke" fill="#000" stroke="#000" shape-rendering="auto">3916.390</text>
<rect x="1603" y="219" width="2" height="1" fill="#000"/>
<text x="1608" y="223" font-family="Liberation Sans, sans-serif" font-size="10" letter-spacing="-0.45" stroke-width="0.22" paint-order="stroke" fill="#000" stroke="#000" shape-rendering="auto">3901.210</text>
<rect x="1603" y="252" width="2" height="1" fill="#000"/>
<text x="1608" y="256" font-family="Liberation Sans, sans-serif" font-size="10" letter-spacing="-0.45" stroke-width="0.22" paint-order="stroke" fill="#000" stroke="#000" shape-rendering="auto">3886.030</text>
<rect x="1603" y="285" width="2" height="1" fill="#000"/>
<text x="1608" y="289" font-family="Liberation Sans, sans-serif" font-size="10" letter-spacing="-0.45" stroke-width="0.22" paint-order="stroke" fill="#000" stroke="#000" shape-rendering="auto">3870.850</text>
<rect x="1603" y="318" width="2" height="1" fill="#000"/>
<text x="1608" y="322" font-family="Liberation Sans, sans-serif" font-size="10" letter-spacing="-0.45" stroke-width="0.22" paint-order="stroke" fill="#000" stroke="#000" shape-rendering="auto">3855.670</text>
<rect x="1603" y="351" width="2" height="1" fill="#000"/>
<text x="1608" y="355" font-family="Liberation Sans, sans-serif" font-size="10" letter-spacing="-0.45" stroke-width="0.22" paint-order="stroke" fill="#000" stroke="#000" shape-rendering="auto">3840.490</text>
<rect x="1603" y="384" width="2" height="1" fill="#000"/>
<text x="1608" y="388" font-family="Liberation Sans, sans-serif" font-size="10" letter-spacing="-0.45" stroke-width="0.22" paint-order="stroke" fill="#000" stroke="#000" shape-rendering="auto">3824.850</text>
<rect x="1603" y="417" width="2" height="1" fill="#000"/>
<text x="1608" y="421" font-family="Liberation Sans, sans-serif" font-size="10" letter-spacing="-0.45" stroke-width="0.22" paint-order="stroke" fill="#000" stroke="#000" shape-rendering="auto">3809.670</text>
<rect x="1603" y="450" width="2" height="1" fill="#000"/>
<text x="1608" y="454" font-family="Liberation Sans, sans-serif" font-size="10" letter-spacing="-0.45" stroke-width="0.22" paint-order="stroke" fill="#000" stroke="#000" shape-rendering="auto">3794.490</text>
<rect x="1603" y="483" width="2" height="1" fill="#000"/>
<text x="1608" y="487" font-family="Liberation Sans, sans-serif" font-size="10" letter-spacing="-0.45" stroke-width="0.22" paint-order="stroke" fill="#000" stroke="#000" shape-rendering="auto">3779.310</text>
<rect x="1603" y="516" width="2" height="1" fill="#000"/>
<text x="1608" y="520" font-family="Liberation Sans, sans-serif" font-size="10" letter-spacing="-0.45" stroke-width="0.22" paint-order="stroke" fill="#000" stroke="#000" shape-rendering="auto">3764.130</text>
<rect x="1603" y="549" width="2" height="1" fill="#000"/>
<text x="1608" y="553" font-family="Liberation Sans, sans-serif" font-size="10" letter-spacing="-0.45" stroke-width="0.22" paint-order="stroke" fill="#000" stroke="#000" shape-rendering="auto">3748.950</text>
<rect x="1603" y="582" width="2" height="1" fill="#000"/>
<text x="1608" y="586" font-family="Liberation Sans, sans-serif" font-size="10" letter-spacing="-0.45" stroke-width="0.22" paint-order="stroke" fill="#000" stroke="#000" shape-rendering="auto">3733.770</text>
<rect x="1603" y="615" width="2" height="1" fill="#000"/>
<text x="1608" y="619" font-family="Liberation Sans, sans-serif" font-size="10" letter-spacing="-0.45" stroke-width="0.22" paint-order="stroke" fill="#000" stroke="#000" shape-rendering="auto">3718.590</text>
<rect x="1604" y="31" width="46" height="11" fill="#ff0000"/>
<text x="1608" y="40" font-family="Liberation Sans, sans-serif" font-size="10" letter-spacing="-0.45" stroke-width="0.22" paint-order="stroke" fill="#fff" stroke="#fff" shape-rendering="auto">3985.119</text>
<rect x="1604" y="66" width="46" height="11" fill="#ff0000"/>
<text x="1608" y="75" font-family="Liberation Sans, sans-serif" font-size="10" letter-spacing="-0.45" stroke-width="0.22" paint-order="stroke" fill="#fff" stroke="#fff" shape-rendering="auto">3968.980</text>
<rect x="1604" y="101" width="46" height="11" fill="#000"/>
<text x="1608" y="110" font-family="Liberation Sans, sans-serif" font-size="10" letter-spacing="-0.45" stroke-width="0.22" paint-order="stroke" fill="#fff" stroke="#fff" shape-rendering="auto">3953.550</text>
<rect x="1604" y="117" width="46" height="11" fill="#ff8c00"/>
<text x="1608" y="126" font-family="Liberation Sans, sans-serif" font-size="10" letter-spacing="-0.45" stroke-width="0.22" paint-order="stroke" fill="#fff" stroke="#fff" shape-rendering="auto">3945.463</text>
<rect x="1604" y="156" width="46" height="11" fill="#0000ff"/>
<text x="1608" y="165" font-family="Liberation Sans, sans-serif" font-size="10" letter-spacing="-0.45" stroke-width="0.22" paint-order="stroke" fill="#fff" stroke="#fff" shape-rendering="auto">3927.479</text>
<rect x="1604" y="192" width="46" height="11" fill="#0000ff"/>
<text x="1608" y="201" font-family="Liberation Sans, sans-serif" font-size="10" letter-spacing="-0.45" stroke-width="0.22" paint-order="stroke" fill="#fff" stroke="#fff" shape-rendering="auto">3910.879</text>
<rect x="4" y="677" width="3" height="18" fill="#00ff00"/>
<rect x="20" y="677" width="3" height="17" fill="#00ff00"/>
<rect x="36" y="677" width="3" height="13" fill="#00ff00"/>
<rect x="52" y="677" width="3" height="11" fill="#00ff00"/>
<rect x="68" y="677" width="3" height="9" fill="#00ff00"/>
<rect x="84" y="677" width="3" height="3" fill="#00ff00"/>
<rect x="100" y="675" width="3" height="2" fill="#00ff00"/>
<rect x="116" y="673" width="3" height="4" fill="#00ff00"/>
<rect x="132" y="677" width="3" height="1" fill="#00ff00"/>
<rect x="148" y="677" width="3" height="5" fill="#00ff00"/>
<rect x="164" y="677" width="3" height="2" fill="#00ff00"/>
<rect x="180" y="676" width="3" height="1" fill="#00ff00"/>
<rect x="196" y="674" width="3" height="3" fill="#00ff00"/>
<rect x="212" y="671" width="3" height="6" fill="#00ff00"/>
<rect x="228" y="671" width="3" height="6" fill="#00ff00"/>
<rect x="244" y="671" width="3" height="6" fill="#00ff00"/>
<rect x="260" y="668" width="3" height="9" fill="#00ff00"/>
<rect x="276" y="666" width="3" height="11" fill="#00ff00"/>
<rect x="292" y="664" width="3" height="13" fill="#00ff00"/>
<rect x="308" y="661" width="3" height="16" fill="#00ff00"/>
<rect x="324" y="659" width="3" height="18" fill="#00ff00"/>
<rect x="340" y="653" width="3" height="24" fill="#00ff00"/>
<rect x="356" y="648" width="3" height="29" fill="#00ff00"/>
<rect x="372" y="645" width="3" height="32" fill="#00ff00"/>
<rect x="388" y="645" width="3" height="32" fill="#00ff00"/>
<rect x="404" y="644" width="3" height="33" fill="#00ff00"/>
<rect x="420" y="643" width="3" height="34" fill="#00ff00"/>
<rect x="436" y="640" width="3" height="37" fill="#00ff00"/>
<rect x="452" y="640" width="3" height="37" fill="#00ff00"/>
<rect x="468" y="642" width="3" height="35" fill="#00ff00"/>
<rect x="484" y="644" width="3" height="33" fill="#00ff00"/>
<rect x="500" y="649" width="3" height="28" fill="#00ff00"/>
<rect x="516" y="653" width="3" height="24" fill="#00ff00"/>
<rect x="532" y="657" width="3" height="20" fill="#00ff00"/>
<rect x="548" y="661" width="3" height="16" fill="#00ff00"/>
<rect x="564" y="664" width="3" height="13" fill="#00ff00"/>
<rect x="580" y="669" width="3" height="8" fill="#00ff00"/>
<rect x="596" y="674" width="3" height="3" fill="#00ff00"/>
<rect x="612" y="677" width="3" height="2" fill="#00ff00"/>
<rect x="628" y="677" width="3" height="2" fill="#00ff00"/>
<rect x="644" y="677" width="3" height="6" fill="#00ff00"/>
<rect x="660" y="677" width="3" height="9" fill="#00ff00"/>
<rect x="676" y="677" width="3" height="11" fill="#00ff00"/>
<rect x="692" y="677" width="3" height="13" fill="#00ff00"/>
<rect x="708" y="677" width="3" height="13" fill="#00ff00"/>
<rect x="724" y="677" width="3" height="17" fill="#00ff00"/>
<rect x="740" y="677" width="3" height="20" fill="#00ff00"/>
<rect x="756" y="677" width="3" height="25" fill="#00ff00"/>
<rect x="772" y="677" width="3" height="26" fill="#00ff00"/>
<rect x="788" y="677" width="3" height="29" fill="#00ff00"/>
<rect x="804" y="677" width="3" height="35" fill="#00ff00"/>
<rect x="820" y="677" width="3" height="36" fill="#00ff00"/>
<rect x="836" y="677" width="3" height="34" fill="#00ff00"/>
<rect x="852" y="677" width="3" height="30" fill="#00ff00"/>
<rect x="868" y="677" width="3" height="27" fill="#00ff00"/>
<rect x="884" y="677" width="3" height="26" fill="#00ff00"/>
<rect x="900" y="677" width="3" height="24" fill="#00ff00"/>
<rect x="916" y="677" width="3" height="15" fill="#00ff00"/>
<rect x="932" y="677" width="3" height="7" fill="#00ff00"/>
<rect x="948" y="675" width="3" height="2" fill="#00ff00"/>
<rect x="964" y="669" width="3" height="8" fill="#00ff00"/>
<rect x="980" y="661" width="3" height="16" fill="#00ff00"/>
<rect x="996" y="655" width="3" height="22" fill="#00ff00"/>
<rect x="1012" y="651" width="3" height="26" fill="#00ff00"/>
<rect x="1028" y="656" width="3" height="21" fill="#00ff00"/>
<rect x="1044" y="659" width="3" height="18" fill="#00ff00"/>
<rect x="1060" y="662" width="3" height="15" fill="#00ff00"/>
<rect x="1076" y="665" width="3" height="12" fill="#00ff00"/>
<rect x="1092" y="664" width="3" height="13" fill="#00ff00"/>
<rect x="1108" y="657" width="3" height="20" fill="#00ff00"/>
<rect x="1124" y="650" width="3" height="27" fill="#00ff00"/>
<rect x="1140" y="643" width="3" height="34" fill="#00ff00"/>
<rect x="1156" y="636" width="3" height="41" fill="#00ff00"/>
<rect x="1172" y="633" width="3" height="44" fill="#00ff00"/>
<rect x="1188" y="633" width="3" height="44" fill="#00ff00"/>
<rect x="1204" y="628" width="3" height="49" fill="#00ff00"/>
<rect x="1220" y="626" width="3" height="51" fill="#00ff00"/>
<rect x="1236" y="626" width="3" height="51" fill="#00ff00"/>
<rect x="1252" y="626" width="3" height="51" fill="#00ff00"/>
<clipPath id="c2"><rect x="5" y="621" width="1597" height="96"/></clipPath><g clip-path="url(#c2)">
<polyline points="4.0,702.3 21.0,701.3 37.0,700.1 53.0,698.5 70.0,696.9 87.0,692.4 117.0,686.4 150.0,682.4 197.0,678.6 214.6,676.4 262.0,674.9 324.4,667.9 357.0,662.7 400.0,656.2 421.0,652.5 437.0,649.9 453.0,646.7 469.0,644.7 485.0,644.5 501.0,644.7 517.0,645.7 533.0,646.9 549.0,648.9 565.0,650.7 581.0,653.7 597.0,657.4 613.0,661.4 629.0,665.4 645.0,668.7 661.0,672.4 677.0,675.6 693.0,678.4 709.0,681.6 725.0,684.9 741.0,686.9 757.0,690.4 773.0,692.9 789.0,694.9 805.0,697.9 821.0,700.3 837.0,702.8 853.0,705.3 869.0,706.3 885.0,706.5 901.0,706.5 917.0,704.8 933.0,702.8 949.0,699.1 965.0,693.9 981.0,688.6 997.0,682.6 1013.0,676.9 1029.0,671.6 1045.0,667.9 1061.0,664.7 1077.0,662.7 1093.0,660.4 1109.0,659.7 1125.0,658.7 1141.0,656.8 1157.0,655.9 1173.0,652.9 1189.0,649.9 1205.0,645.7 1221.0,641.7 1237.0,637.4 1253.0,634.4" fill="none" stroke="#ff0000" stroke-width="2" stroke-linejoin="round" shape-rendering="auto"/>
</g>
<text x="9" y="633" font-family="Liberation Sans, sans-serif" font-size="10" letter-spacing="-0.36" stroke-width="0.22" paint-order="stroke" fill="#000" stroke="#000" shape-rendering="auto">MACD(12,26,9) 32.0325 27.6132</text>
<rect x="1603" y="627" width="2" height="1" fill="#000"/>
<text x="1606.5" y="631" font-family="Liberation Sans, sans-serif" font-size="10" letter-spacing="-0.45" stroke-width="0.22" paint-order="stroke" fill="#000" stroke="#000" shape-rendering="auto">35.1444</text>
<rect x="1603" y="677" width="2" height="1" fill="#000"/>
<text x="1606.5" y="681" font-family="Liberation Sans, sans-serif" font-size="10" letter-spacing="-0.45" stroke-width="0.22" paint-order="stroke" fill="#000" stroke="#000" shape-rendering="auto">0.00</text>
<rect x="1603" y="710" width="2" height="1" fill="#000"/>
<text x="1606.5" y="714" font-family="Liberation Sans, sans-serif" font-size="10" letter-spacing="-0.45" stroke-width="0.22" paint-order="stroke" fill="#000" stroke="#000" shape-rendering="auto">-25.317</text>
<path d="M6 735.5H1602" stroke="#000" stroke-width="1" stroke-dasharray="3 3" fill="none"/>
<path d="M6 757.5H1602" stroke="#000" stroke-width="1" stroke-dasharray="3 3" fill="none"/>
<path d="M6 783.5H1602" stroke="#000" stroke-width="1" stroke-dasharray="3 3" fill="none"/>
<clipPath id="c3"><rect x="5" y="720" width="1597" height="75"/></clipPath><g clip-path="url(#c3)">
<polyline points="4.0,759.2 25.0,759.2 33.7,757.2 72.0,757.2 85.0,752.2 92.0,752.2 102.0,754.0 117.0,754.2 135.0,762.2 148.5,765.2 165.0,755.5 175.0,756.5 200.0,754.5 212.0,754.5 227.0,757.2 247.0,757.2 262.0,753.5 299.5,753.2 324.0,751.0 343.0,746.5 364.0,746.5 382.0,749.3 404.0,749.3 421.0,748.0 433.0,746.5 441.0,746.5 453.0,748.8 469.0,750.3 485.0,756.2 501.0,756.5 517.0,756.5 533.0,759.2 549.0,759.2 565.0,759.2 581.0,765.0 597.0,765.2 613.0,763.7 629.0,759.2 645.0,765.2 661.0,765.0 677.0,764.0 693.0,764.0 709.0,762.2 725.0,767.2 741.0,767.5 757.0,770.2 773.0,766.5 789.0,768.7 805.0,771.2 821.0,767.5 837.0,762.5 853.0,759.5 865.0,759.2 885.0,762.5 901.0,761.2 917.0,751.0 933.0,750.3 949.0,749.3 965.0,748.5 981.0,746.5 997.0,746.3 1013.0,747.3 1029.0,759.2 1045.0,758.2 1061.0,758.2 1077.0,758.2 1093.0,754.5 1109.0,748.5 1125.0,745.5 1141.0,744.1 1157.0,743.9 1173.0,747.8 1189.0,749.3 1205.0,745.4 1221.0,746.7 1237.0,748.4 1253.0,748.4" fill="none" stroke="#1e90ff" stroke-width="2" stroke-linejoin="round" shape-rendering="auto"/>
</g>
<text x="9" y="732" font-family="Liberation Sans, sans-serif" font-size="10" letter-spacing="-0.36" stroke-width="0.22" paint-order="stroke" fill="#000" stroke="#000" shape-rendering="auto">RSI(14) 62.7886</text>
<text x="1605.5" y="730" font-family="Liberation Sans, sans-serif" font-size="10" letter-spacing="-0.45" stroke-width="0.22" paint-order="stroke" fill="#000" stroke="#000" shape-rendering="auto">100</text>
<text x="1605.5" y="739" font-family="Liberation Sans, sans-serif" font-size="10" letter-spacing="-0.45" stroke-width="0.22" paint-order="stroke" fill="#000" stroke="#000" shape-rendering="auto">80</text>
<text x="1605.5" y="761" font-family="Liberation Sans, sans-serif" font-size="10" letter-spacing="-0.45" stroke-width="0.22" paint-order="stroke" fill="#000" stroke="#000" shape-rendering="auto">50</text>
<text x="1605.5" y="786.5" font-family="Liberation Sans, sans-serif" font-size="10" letter-spacing="-0.45" stroke-width="0.22" paint-order="stroke" fill="#000" stroke="#000" shape-rendering="auto">15</text>
<text x="1605.5" y="792.5" font-family="Liberation Sans, sans-serif" font-size="10" letter-spacing="-0.45" stroke-width="0.22" paint-order="stroke" fill="#000" stroke="#000" shape-rendering="auto">0</text>
<rect x="5" y="796" width="1" height="3" fill="#000"/>
<text x="4" y="808" font-family="Liberation Sans, sans-serif" font-size="10" letter-spacing="-0.45" stroke-width="0.22" paint-order="stroke" fill="#000" stroke="#000" shape-rendering="auto">4 Jul 2022</text>
<rect x="69" y="796" width="1" height="3" fill="#000"/>
<text x="68" y="808" font-family="Liberation Sans, sans-serif" font-size="10" letter-spacing="-0.45" stroke-width="0.22" paint-order="stroke" fill="#000" stroke="#000" shape-rendering="auto">4 Jul 16:00</text>
<rect x="133" y="796" width="1" height="3" fill="#000"/>
<text x="132" y="808" font-family="Liberation Sans, sans-serif" font-size="10" letter-spacing="-0.45" stroke-width="0.22" paint-order="stroke" fill="#000" stroke="#000" shape-rendering="auto">5 Jul 08:00</text>
<rect x="197" y="796" width="1" height="3" fill="#000"/>
<text x="196" y="808" font-family="Liberation Sans, sans-serif" font-size="10" letter-spacing="-0.45" stroke-width="0.22" paint-order="stroke" fill="#000" stroke="#000" shape-rendering="auto">6 Jul 00:00</text>
<rect x="261" y="796" width="1" height="3" fill="#000"/>
<text x="260" y="808" font-family="Liberation Sans, sans-serif" font-size="10" letter-spacing="-0.45" stroke-width="0.22" paint-order="stroke" fill="#000" stroke="#000" shape-rendering="auto">6 Jul 16:00</text>
<rect x="325" y="796" width="1" height="3" fill="#000"/>
<text x="324" y="808" font-family="Liberation Sans, sans-serif" font-size="10" letter-spacing="-0.45" stroke-width="0.22" paint-order="stroke" fill="#000" stroke="#000" shape-rendering="auto">7 Jul 08:00</text>
<rect x="389" y="796" width="1" height="3" fill="#000"/>
<text x="388" y="808" font-family="Liberation Sans, sans-serif" font-size="10" letter-spacing="-0.45" stroke-width="0.22" paint-order="stroke" fill="#000" stroke="#000" shape-rendering="auto">8 Jul 00:00</text>
<rect x="453" y="796" width="1" height="3" fill="#000"/>
<text x="452" y="808" font-family="Liberation Sans, sans-serif" font-size="10" letter-spacing="-0.45" stroke-width="0.22" paint-order="stroke" fill="#000" stroke="#000" shape-rendering="auto">8 Jul 16:00</text>
<rect x="517" y="796" width="1" height="3" fill="#000"/>
<text x="516" y="808" font-family="Liberation Sans, sans-serif" font-size="10" letter-spacing="-0.45" stroke-width="0.22" paint-order="stroke" fill="#000" stroke="#000" shape-rendering="auto">11 Jul 08:00</text>
<rect x="581" y="796" width="1" height="3" fill="#000"/>
<text x="580" y="808" font-family="Liberation Sans, sans-serif" font-size="10" letter-spacing="-0.45" stroke-width="0.22" paint-order="stroke" fill="#000" stroke="#000" shape-rendering="auto">12 Jul 00:00</text>
<rect x="645" y="796" width="1" height="3" fill="#000"/>
<text x="644" y="808" font-family="Liberation Sans, sans-serif" font-size="10" letter-spacing="-0.45" stroke-width="0.22" paint-order="stroke" fill="#000" stroke="#000" shape-rendering="auto">12 Jul 16:00</text>
<rect x="709" y="796" width="1" height="3" fill="#000"/>
<text x="708" y="808" font-family="Liberation Sans, sans-serif" font-size="10" letter-spacing="-0.45" stroke-width="0.22" paint-order="stroke" fill="#000" stroke="#000" shape-rendering="auto">13 Jul 08:00</text>
<rect x="773" y="796" width="1" height="3" fill="#000"/>
<text x="772" y="808" font-family="Liberation Sans, sans-serif" font-size="10" letter-spacing="-0.45" stroke-width="0.22" paint-order="stroke" fill="#000" stroke="#000" shape-rendering="auto">14 Jul 00:00</text>
<rect x="837" y="796" width="1" height="3" fill="#000"/>
<text x="836" y="808" font-family="Liberation Sans, sans-serif" font-size="10" letter-spacing="-0.45" stroke-width="0.22" paint-order="stroke" fill="#000" stroke="#000" shape-rendering="auto">14 Jul 16:00</text>
<rect x="901" y="796" width="1" height="3" fill="#000"/>
<text x="900" y="808" font-family="Liberation Sans, sans-serif" font-size="10" letter-spacing="-0.45" stroke-width="0.22" paint-order="stroke" fill="#000" stroke="#000" shape-rendering="auto">15 Jul 08:00</text>
<rect x="965" y="796" width="1" height="3" fill="#000"/>
<text x="964" y="808" font-family="Liberation Sans, sans-serif" font-size="10" letter-spacing="-0.45" stroke-width="0.22" paint-order="stroke" fill="#000" stroke="#000" shape-rendering="auto">18 Jul 00:00</text>
<rect x="1029" y="796" width="1" height="3" fill="#000"/>
<text x="1028" y="808" font-family="Liberation Sans, sans-serif" font-size="10" letter-spacing="-0.45" stroke-width="0.22" paint-order="stroke" fill="#000" stroke="#000" shape-rendering="auto">18 Jul 16:00</text>
<rect x="1093" y="796" width="1" height="3" fill="#000"/>
<text x="1092" y="808" font-family="Liberation Sans, sans-serif" font-size="10" letter-spacing="-0.45" stroke-width="0.22" paint-order="stroke" fill="#000" stroke="#000" shape-rendering="auto">19 Jul 08:00</text>
<rect x="1157" y="796" width="1" height="3" fill="#000"/>
<text x="1156" y="808" font-family="Liberation Sans, sans-serif" font-size="10" letter-spacing="-0.45" stroke-width="0.22" paint-order="stroke" fill="#000" stroke="#000" shape-rendering="auto">20 Jul 00:00</text>
<rect x="1221" y="796" width="1" height="3" fill="#000"/>
<text x="1220" y="808" font-family="Liberation Sans, sans-serif" font-size="10" letter-spacing="-0.45" stroke-width="0.22" paint-order="stroke" fill="#000" stroke="#000" shape-rendering="auto">20 Jul 16:00</text>
</svg>
</body></html>
